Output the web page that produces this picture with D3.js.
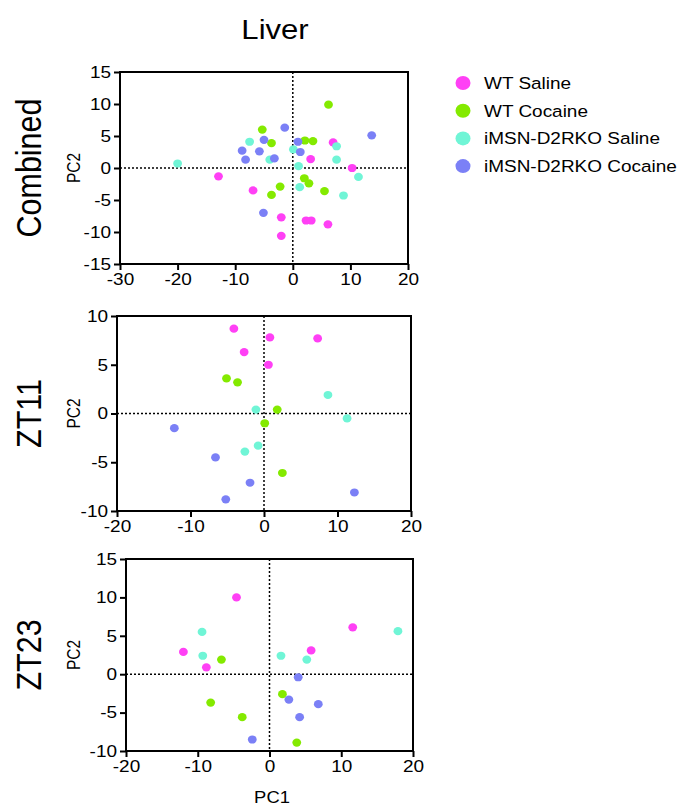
<!DOCTYPE html>
<html lang="en">
<head>
<meta charset="utf-8">
<title>Liver PCA</title>
<script src="https://cdn.jsdelivr.net/npm/d3@7"></script>
<style>
  body { margin: 0; background: #fff; }
  svg text { font-family: "Liberation Sans", Arial, Helvetica, sans-serif; fill: #000; }
</style>
</head>
<body>
<script>
// groups + colours
var groups = ["WT Saline", "WT Cocaine", "iMSN-D2RKO Saline", "iMSN-D2RKO Cocaine"];
var colors = ["#ff40f5", "#84ea00", "#70f5d6", "#7b80f6"];

// Combined panel, [PC1, PC2] per group
var combWTSal = [[7.0,4.0],[3.1,1.4],[10.3,0],[-12.9,-1.3],[-6.9,-3.5],[-2.0,-7.7],[2.3,-8.2],[3.2,-8.2],[6.1,-8.8],[-2.0,-10.6]];
var combWTCoc = [[6.2,9.9],[-5.3,6.0],[-3.7,3.9],[2.1,4.3],[3.5,4.2],[2.0,-1.6],[2.8,-2.4],[-2.2,-2.9],[-3.7,-4.2],[5.5,-3.6]];
var combKOSal = [[-20.0,0.7],[-7.5,4.1],[-4.0,1.3],[0.1,2.9],[1.0,0.3],[7.6,3.4],[7.6,1.3],[11.4,-1.4],[8.8,-4.3],[1.2,-3.0]];
var combKOCoc = [[-1.4,6.3],[-5.0,4.4],[-8.8,2.7],[-5.8,2.6],[-8.2,1.3],[-3.2,1.5],[0.9,4.1],[1.3,2.5],[13.7,5.1],[-5.1,-7.0]];

// ZT11
var zt11WTSal = [[-4.1,8.7],[0.8,7.8],[7.3,7.7],[-2.7,6.3],[0.6,5.0]];
var zt11WTCoc = [[-5.1,3.6],[-3.6,3.2],[1.8,0.4],[0.1,-1.0],[2.5,-6.1]];
var zt11KOSal = [[-1.1,0.4],[8.7,1.9],[11.3,-0.5],[-0.8,-3.3],[-2.6,-3.9]];
var zt11KOCoc = [[-12.2,-1.5],[-6.6,-4.5],[-1.9,-7.1],[-5.2,-8.8],[12.3,-8.1]];

// ZT23
var zt23WTSal = [[-4.6,10.0],[-12.0,2.9],[-8.8,0.9],[5.8,3.1],[11.6,6.1]];
var zt23WTCoc = [[-6.7,1.9],[-8.2,-3.7],[-3.8,-5.6],[1.8,-2.6],[3.8,-8.9]];
var zt23KOSal = [[-9.4,5.5],[-9.3,2.4],[1.6,2.4],[5.2,1.9],[17.9,5.6]];
var zt23KOCoc = [[4.0,-0.4],[2.7,-3.3],[6.8,-3.9],[4.2,-5.6],[-2.4,-8.5]];

var panels = [
  { name: "Combined", xd: [-30, 20], yd: [-15, 15], xt: [-30,-20,-10,0,10,20], yt: [-15,-10,-5,0,5,10,15],
    box: [120, 408, 72, 264], series: [combWTSal, combWTCoc, combKOSal, combKOCoc] },
  { name: "ZT11", xd: [-20, 20], yd: [-10, 10], xt: [-20,-10,0,10,20], yt: [-10,-5,0,5,10],
    box: [117, 411, 316, 511], series: [zt11WTSal, zt11WTCoc, zt11KOSal, zt11KOCoc] },
  { name: "ZT23", xd: [-20, 20], yd: [-10, 15], xt: [-20,-10,0,10,20], yt: [-10,-5,0,5,10,15],
    box: [126, 413, 559, 751], series: [zt23WTSal, zt23WTCoc, zt23KOSal, zt23KOCoc] }
];

// the original figure is a bit wider than tall, so text gets stretched sideways
var sx = 1.15;

var svg = d3.select("body").append("svg").attr("width", 680).attr("height", 808);

svg.append("text").attr("transform", "translate(275,39) scale(" + sx + ",1)")
  .attr("text-anchor", "middle").attr("font-size", "27px").text("Liver");

panels.forEach(function(p) {
  var x = d3.scaleLinear().domain(p.xd).range([p.box[0], p.box[1]]);
  var y = d3.scaleLinear().domain(p.yd).range([p.box[3], p.box[2]]);
  var g = svg.append("g");

  // zero lines
  g.append("line").attr("x1", x(0)).attr("x2", x(0)).attr("y1", p.box[2]).attr("y2", p.box[3])
    .attr("stroke", "#000").attr("stroke-width", 1.5).attr("stroke-dasharray", "2,2");
  g.append("line").attr("x1", p.box[0]).attr("x2", p.box[1]).attr("y1", y(0)).attr("y2", y(0))
    .attr("stroke", "#000").attr("stroke-width", 1.5).attr("stroke-dasharray", "2,2");

  // points
  p.series.forEach(function(s, i) {
    g.selectAll(null).data(s).enter().append("ellipse")
      .attr("cx", function(d) { return x(d[0]); })
      .attr("cy", function(d) { return y(d[1]); })
      .attr("rx", 4.4).attr("ry", 4.1)
      .attr("fill", colors[i]);
  });

  // frame
  g.append("rect").attr("x", p.box[0]).attr("y", p.box[2])
    .attr("width", p.box[1] - p.box[0]).attr("height", p.box[3] - p.box[2])
    .attr("fill", "none").attr("stroke", "#000").attr("stroke-width", 2);

  var ax = g.append("g").attr("transform", "translate(0," + p.box[3] + ")")
    .call(d3.axisBottom(x).tickValues(p.xt).tickSize(6).tickPadding(3).tickFormat(d3.format("d")));
  var ay = g.append("g").attr("transform", "translate(" + p.box[0] + ",0)")
    .call(d3.axisLeft(y).tickValues(p.yt).tickSize(6).tickPadding(2).tickFormat(d3.format("d")));
  [ax, ay].forEach(function(a) {
    a.select(".domain").remove();
    a.selectAll("line").attr("stroke", "#000").attr("stroke-width", 2);
    a.selectAll("text").attr("font-size", "16.5px")
      .attr("font-family", "'Liberation Sans', Arial, sans-serif")
      .attr("transform", "scale(" + sx + ",1)")
      .text(function(d) { return String(d); });
  });
  // scaling moves the left labels; put them back against the ticks
  ay.selectAll("text").attr("x", -9 / sx);

  var cy = (p.box[2] + p.box[3]) / 2;
  svg.append("text").attr("transform", "translate(41," + cy + ") scale(" + sx + ",1) rotate(-90)")
    .attr("text-anchor", "middle").attr("font-size", "30.5px").text(p.name);
  svg.append("text").attr("transform", "translate(80," + cy + ") scale(" + sx + ",1) rotate(-90)")
    .attr("text-anchor", "middle").attr("font-size", "15.5px").text("PC2");
});

svg.append("text").attr("transform", "translate(272,803) scale(" + sx + ",1)")
  .attr("text-anchor", "middle").attr("font-size", "16px").text("PC1");

// legend
var leg = svg.append("g").attr("transform", "translate(463,83)");
groups.forEach(function(gname, i) {
  leg.append("ellipse").attr("cx", 0).attr("cy", i * 27.7).attr("rx", 7.5).attr("ry", 7).attr("fill", colors[i]);
  leg.append("text").attr("transform", "translate(21," + (i * 27.7 + 6) + ") scale(" + sx + ",1)")
    .attr("font-size", "16.5px").text(gname);
});
</script>
</body>
</html>
